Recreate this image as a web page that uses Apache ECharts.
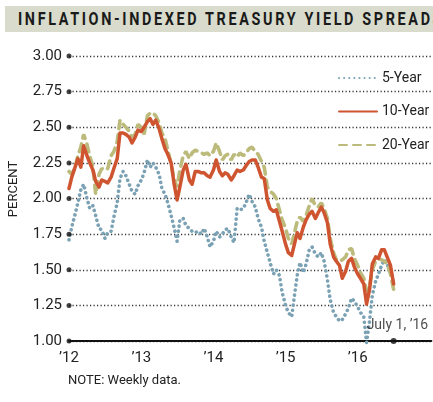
<!DOCTYPE html>
<html lang="en">
<head>
    <meta charset="UTF-8">
    <title>Inflation-Indexed Treasury Yield Spreads</title>
    <script src="https://cdn.jsdelivr.net/npm/echarts@6/dist/echarts.min.js"></script>
    <style type="text/css">
        html, body { margin: 0; padding: 0; background: #fff; overflow: hidden; }
        #box { position: absolute; left: 0; top: 0; width: 433px; height: 402px; }
        #title {
            position: absolute; left: 5px; top: 6px; width: 428px; height: 26px;
            background: #d9dccd; overflow: hidden; white-space: nowrap;
        }
        #title span {
            position: absolute; left: 13px; top: 0; width: 700px;
            font-family: Roboto, sans-serif; font-weight: bold; font-size: 18px; line-height: 26px;
            letter-spacing: 3.3px; color: #1a1a1a;
            transform: scaleX(0.8); transform-origin: left center;
        }
    </style>
</head>
<body>
    <div id="box"></div>
    <div id="title"><span>INFLATION-INDEXED TREASURY YIELD SPREADS</span></div>
</body>
</html>
<script>
    var FONT = "Roboto, sans-serif";

    // semi-monthly sample dates, Jan 2012 .. Jul 1 2016
    var dates = [];
    for (var y = 2012; y <= 2016; y++) {
        for (var m = 1; m <= 12; m++) {
            if (y == 2016 && m > 6) break;
            var mm = (m < 10 ? '0' : '') + m;
            dates.push(y + '-' + mm + '-01', y + '-' + mm + '-15');
        }
    }
    dates.push('2016-07-01');

    var fiveYear = [
        1.71,1.80,1.89,1.97,2.06,2.10,2.00,1.93,1.95,1.88,1.79,1.78,1.72,1.76,1.77,1.87,1.97,2.14,2.19,2.16,2.10,2.05,2.03,2.09,
        2.13,2.18,2.27,2.22,2.25,2.22,2.17,2.07,2.03,1.97,1.88,1.80,1.70,1.85,1.86,1.81,1.79,1.77,1.76,1.77,1.75,1.79,1.73,1.66,
        1.70,1.77,1.73,1.75,1.78,1.79,1.73,1.69,1.93,1.92,1.93,1.97,2.03,1.98,1.94,1.86,1.80,1.70,1.62,1.55,1.47,1.50,1.46,1.34,
        1.25,1.20,1.17,1.32,1.46,1.55,1.48,1.54,1.64,1.66,1.61,1.59,1.62,1.56,1.43,1.29,1.20,1.17,1.14,1.15,1.19,1.23,1.30,1.28,
        1.24,1.20,1.17,0.99,1.14,1.32,1.42,1.47,1.53,1.57,1.53,1.50,1.40
    ];
    var tenYear = [
        2.07,2.15,2.22,2.28,2.22,2.37,2.30,2.25,2.20,2.12,2.08,2.13,2.12,2.11,2.15,2.21,2.28,2.46,2.46,2.45,2.43,2.39,2.43,2.48,
        2.47,2.50,2.54,2.56,2.52,2.55,2.49,2.42,2.35,2.31,2.25,2.11,1.99,2.08,2.20,2.24,2.13,2.10,2.19,2.19,2.18,2.18,2.16,2.15,
        2.20,2.27,2.19,2.16,2.18,2.17,2.13,2.16,2.20,2.19,2.20,2.23,2.26,2.27,2.27,2.22,2.15,2.14,1.99,1.93,1.91,1.92,1.84,1.77,
        1.68,1.62,1.60,1.68,1.76,1.72,1.80,1.85,1.89,1.91,1.86,1.90,1.94,1.90,1.83,1.68,1.59,1.56,1.53,1.44,1.49,1.56,1.58,1.52,
        1.47,1.44,1.40,1.26,1.36,1.54,1.59,1.58,1.64,1.64,1.58,1.53,1.40
    ];
    var twentyYear = [
        2.19,2.17,2.22,2.30,2.36,2.45,2.38,2.30,2.22,2.03,2.17,2.21,2.20,2.21,2.30,2.33,2.40,2.55,2.52,2.50,2.47,2.43,2.45,2.52,
        2.50,2.45,2.58,2.60,2.60,2.58,2.53,2.46,2.42,2.34,2.24,2.14,2.08,2.20,2.30,2.33,2.28,2.32,2.34,2.33,2.32,2.31,2.32,2.30,
        2.33,2.39,2.33,2.27,2.30,2.31,2.27,2.31,2.29,2.32,2.30,2.32,2.35,2.36,2.33,2.31,2.26,2.22,2.08,2.05,2.03,2.00,1.92,1.85,
        1.79,1.72,1.68,1.76,1.84,1.87,1.84,1.88,1.95,2.00,1.95,1.94,1.97,1.93,1.86,1.72,1.62,1.57,1.56,1.57,1.59,1.64,1.65,1.58,
        1.53,1.48,1.44,1.35,1.38,1.50,1.56,1.58,1.57,1.56,1.53,1.47,1.36
    ];
    var yTicks = [1.00, 1.25, 1.50, 1.75, 2.00, 2.25, 2.50, 2.75, 3.00];
    var xMin = '2012-01-01', xMax = '2017-01-08';
    var lastDate = '2016-07-01';

    function pairs(vals) {
        var out = [];
        for (var i = 0; i < vals.length; i++) out.push([dates[i], vals[i]]);
        return out;
    }

    var mychart = echarts.init(document.getElementById("box"));
    mychart.setOption({
        animation: false,
        textStyle: { fontFamily: FONT },
        grid: { left: 69, right: 0, top: 56, bottom: 61, containLabel: false },
        legend: {
            data: ['5-Year', '10-Year', '20-Year'],
            orient: 'vertical', left: 333, top: 66,
            itemWidth: 38, itemHeight: 14, itemGap: 19.5,
            itemStyle: { opacity: 0 },
            textStyle: { fontFamily: FONT, fontSize: 14, color: '#222' }
        },
        xAxis: {
            type: 'time', min: xMin, max: xMax,
            minInterval: 365 * 86400000,
            axisLine: { lineStyle: { color: '#111', width: 2 } },
            axisTick: { show: false },
            splitLine: { show: false },
            axisLabel: {
                margin: 10, fontFamily: FONT, fontSize: 15, color: '#222',
                formatter: function (v) {
                    var yr = new Date(v).getFullYear();
                    return yr < 2017 ? '\u2019' + String(yr).slice(2) : '';
                }
            }
        },
        yAxis: {
            type: 'value', min: 1, max: 3, interval: 0.25,
            axisLine: { show: false },
            axisTick: { show: false },
            axisLabel: {
                margin: 7, fontFamily: FONT, fontSize: 15, color: '#222',
                formatter: function (v) { return v.toFixed(2); }
            },
            splitLine: { lineStyle: { color: '#333', width: 1.3, type: [1.2, 2.3] } }
        },
        graphic: [
            { type: 'text', x: 14, y: 189, rotation: Math.PI / 2,
              style: { text: 'PERCENT', font: '13px ' + FONT, fill: '#222', textAlign: 'center', textVerticalAlign: 'middle' } },
            { type: 'text', x: 68, y: 374,
              style: { text: 'NOTE: Weekly data.', font: '13px ' + FONT, fill: '#222' } }
        ],
        series: [
            {
                name: '5-Year', type: 'line', data: pairs(fiveYear), symbol: 'none', clip: false, z: 2,
                lineStyle: { color: '#7ba2b4', width: 3.6, type: [0.1, 5], cap: 'round' },
                itemStyle: { color: '#7ba2b4' }
            },
            {
                name: '20-Year', type: 'line', data: pairs(twentyYear), symbol: 'none', clip: false, z: 3,
                lineStyle: { color: '#bcbb7c', width: 3.6, type: [8, 6], cap: 'round' },
                itemStyle: { color: '#bcbb7c' }
            },
            {
                name: '10-Year', type: 'line', data: pairs(tenYear), symbol: 'none', clip: false, z: 4,
                lineStyle: { color: '#cf5430', width: 3.5, cap: 'round', join: 'round' },
                itemStyle: { color: '#cf5430' }
            },
            {
                name: 'ticks', type: 'scatter', symbol: 'circle', symbolSize: 5, clip: false, z: 5,
                itemStyle: { color: '#111' },
                data: yTicks.map(function (v) { return [xMin, v]; })
            },
            {
                name: 'last', type: 'scatter', symbol: 'circle', symbolSize: 6, clip: false, z: 5,
                itemStyle: { color: '#111' },
                label: {
                    show: true, formatter: 'July 1, \u201916', position: [-24, -20],
                    fontFamily: FONT, fontSize: 14, color: '#222', align: 'left', verticalAlign: 'top'
                },
                data: [[lastDate, 1]]
            }
        ]
    });
</script>
